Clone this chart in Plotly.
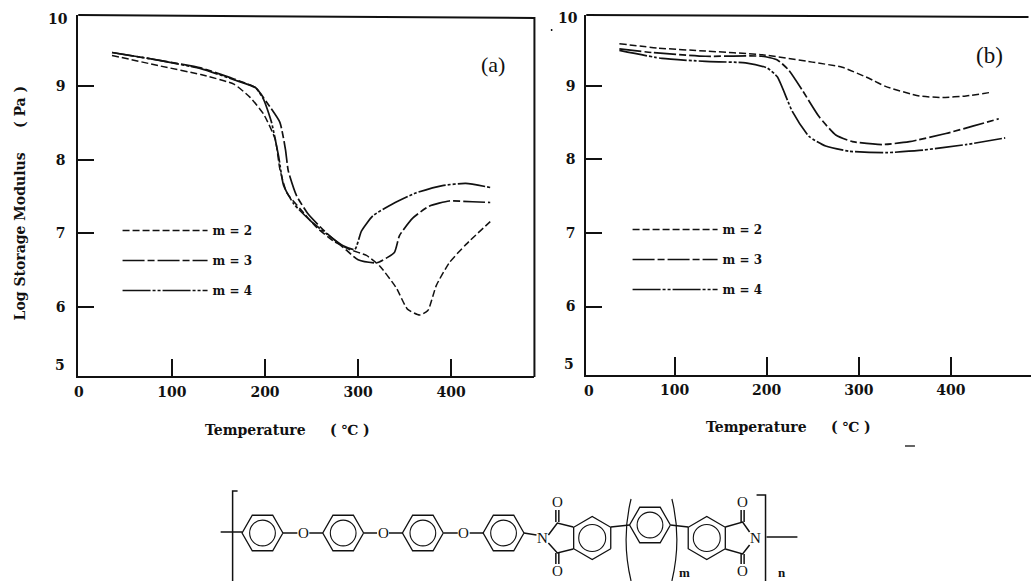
import math
import plotly.graph_objects as go

W, H = 1031, 581

# Panel (a)
a_m2_x = [35.6, 88, 131, 166.5, 184, 198.6, 211, 216, 223.5, 238, 255.5, 273, 291, 309, 323, 341, 353, 366, 375, 384, 398, 416, 442]
a_m2_y = [9.42, 9.275, 9.16, 9.03, 8.85, 8.62, 8.28, 7.87, 7.55, 7.33, 7.08, 6.90, 6.78, 6.70, 6.56, 6.26, 5.97, 5.89, 5.95, 6.29, 6.60, 6.85, 7.16]
a_m3_x = [35.6, 88, 131, 166.5, 190, 202, 216, 222, 225, 234, 246.6, 264, 284, 300, 320, 339, 344.5, 359, 376.5, 398, 423, 442]
a_m3_y = [9.46, 9.35, 9.25, 9.10, 8.98, 8.78, 8.51, 8.14, 7.85, 7.51, 7.26, 7.03, 6.81, 6.64, 6.60, 6.74, 6.97, 7.21, 7.37, 7.44, 7.43, 7.42]
a_m4_x = [35.6, 88, 131, 166.5, 190, 198.6, 207, 214.6, 220, 231, 249, 266.5, 284, 296.5, 303.6, 316, 337, 362, 390.7, 415.7, 443.4]
a_m4_y = [9.46, 9.35, 9.24, 9.09, 8.98, 8.82, 8.51, 8.05, 7.65, 7.40, 7.17, 6.99, 6.83, 6.78, 7.03, 7.24, 7.40, 7.55, 7.65, 7.68, 7.62]

# Panel (b)
b_m2_x = [40, 82.7, 133.5, 195, 249.5, 282, 311, 329, 365.7, 391, 416.4, 443.6]
b_m2_y = [9.57, 9.51, 9.47, 9.42, 9.32, 9.25, 9.10, 8.99, 8.86, 8.84, 8.86, 8.91]
b_m3_x = [40, 75.4, 133.5, 195, 211.5, 224, 238.6, 256.8, 275, 293, 325.7, 355, 394.6, 423.7, 452]
b_m3_y = [9.50, 9.45, 9.40, 9.40, 9.35, 9.21, 8.94, 8.58, 8.33, 8.24, 8.20, 8.24, 8.35, 8.45, 8.55]
b_m4_x = [40, 86.3, 133.5, 177, 200.6, 211.5, 227.8, 246, 264, 289.4, 329.4, 365.6, 416.4, 459]
b_m4_y = [9.48, 9.37, 9.33, 9.31, 9.24, 9.12, 8.65, 8.31, 8.18, 8.11, 8.09, 8.12, 8.20, 8.29]

series_names = ["m = 2", "m = 3", "m = 4"]
a_x_ticks = [0, 100, 200, 300, 400]
b_x_ticks = [100, 200, 300, 400]
y_ticks = [6, 7, 8, 9]

SERIF = "DejaVu Serif"
DASHES = ["7px,3px", "22px,3px,7px,3px", "28px,2px,3px,2px,3px,2px"]
WIDTHS = [1.5, 1.7, 1.7]


def px(x):
    return (x - 2.5) / W


def py(y):
    return 1 - y / H


fig = go.Figure()
panels = [
    ("x", "y", "legend", [(a_m2_x, a_m2_y), (a_m3_x, a_m3_y), (a_m4_x, a_m4_y)]),
    ("x2", "y2", "legend2", [(b_m2_x, b_m2_y), (b_m3_x, b_m3_y), (b_m4_x, b_m4_y)]),
]
for xa, ya, leg, curves in panels:
    for i, (xs, ys) in enumerate(curves):
        fig.add_trace(go.Scatter(
            x=xs, y=ys, xaxis=xa, yaxis=ya, mode="lines", name=series_names[i],
            legend=leg, legendgroup=f"{leg}{i}",
            line=dict(color="#111", width=WIDTHS[i], dash=DASHES[i], shape="spline", smoothing=0.5),
            hoverinfo="skip",
        ))

tickfont = dict(family=SERIF, size=14, color="#111", weight=700)
axis_common = dict(showgrid=False, zeroline=False, showline=True, linecolor="#111", linewidth=2,
                   ticks="inside", tickwidth=2, tickcolor="#111", tickfont=tickfont)

legend_common = dict(
    bgcolor="rgba(0,0,0,0)", borderwidth=0, itemwidth=85, tracegroupgap=11,
    font=dict(family=SERIF, size=12, color="#111", weight=700),
    xanchor="left", yanchor="top", itemclick=False, itemdoubleclick=False,
)

ann = []


def text(x, y, s, size=14, family=SERIF, weight=700, angle=0):
    ann.append(dict(x=px(x), y=py(y), xref="paper", yref="paper", text=s, showarrow=False,
                    xanchor="center", yanchor="middle", textangle=angle,
                    font=dict(family=family, size=size, color="#111", weight=weight)))


text(57, 19, "10"); text(59, 365, "5")
text(569, 18, "10"); text(570, 364, "5"); text(590, 391, "0")
text(19, 203, "Log Storage Modulus     ( Pa )", size=14, angle=-90)
text(287, 430, "Temperature     ( ℃ )", size=14)
text(790, 427, "Temperature     ( ℃ )", size=14)
text(493, 65, "(a)", size=22, family="Liberation Serif", weight=400)
text(992, 56, "(b)", size=23, family="Liberation Serif", weight=400)

shapes = []


def line_path(points, width=1.5):
    d = "M" + " L".join(f"{px(a):.5f},{py(b):.5f}" for a, b in points)
    shapes.append(dict(type="path", path=d, xref="paper", yref="paper",
                       line=dict(color="#111", width=width)))


# frame: the top of both panels and the right side of panel (a)
line_path([(77, 15), (535, 18), (535, 377)], 2)
line_path([(587, 15), (1031, 17)], 2)

# scan specks
line_path([(551.5, 30), (553, 30)], 2)
line_path([(907, 446), (917, 446)], 1.3)


def ring(cx, cy, r, start):
    pts = [(cx + r * math.cos(math.radians(start + 60 * k)), cy + r * math.sin(math.radians(start + 60 * k)))
           for k in range(7)]
    line_path(pts, 1.3)
    shapes.append(dict(type="circle", xref="paper", yref="paper",
                       x0=px(cx - r * 0.63), x1=px(cx + r * 0.63),
                       y0=py(cy - r * 0.63), y1=py(cy + r * 0.63),
                       line=dict(color="#111", width=1.1)))


# repeat-unit formula
for cx in (262, 343, 423, 504):
    ring(cx, 533, 20.5, 0)
ring(651, 525, 20.5, 0)
ring(593, 538, 21.5, 30)
ring(708, 538, 21.5, 30)

for pts in (
    [(220, 532), (241.5, 532)], [(282.5, 533), (297, 533)], [(309, 533), (322.5, 533)],
    [(363.5, 533), (377, 533)], [(389, 533), (402.5, 533)], [(443.5, 533), (458, 533)],
    [(470, 533), (483.5, 533)], [(524.5, 533), (537, 535)],
    [(549, 535), (558, 523), (574, 527)], [(549, 543), (558, 553), (574, 549)],
    [(611.6, 527), (630.5, 525)], [(671.5, 525), (689.4, 527)],
    [(751, 532), (744, 522), (726.6, 527)], [(751, 545), (744, 554), (726.6, 549)],
    [(556.5, 522), (556.5, 510)], [(559.5, 522), (559.5, 510)],
    [(556.5, 553), (556.5, 564)], [(559.5, 553), (559.5, 564)],
    [(742.5, 522), (742.5, 510)], [(745.5, 522), (745.5, 510)],
    [(742.5, 554), (742.5, 564)], [(745.5, 554), (745.5, 564)],
    [(237, 491), (232, 491), (232, 581)], [(758, 495), (767, 495), (767, 581)],
    [(768, 537), (799, 537)],
):
    line_path(pts)

for cx_top, cx_mid in ((632, 622), (673, 683)):
    d = (f"M{px(cx_top)},{py(499)} Q{px(cx_mid)},{py(539)} {px(cx_top)},{py(581)}")
    shapes.append(dict(type="path", path=d, xref="paper", yref="paper", line=dict(color="#111", width=1.2)))

FORMULA = "Liberation Serif"
for x, y, s in ((303, 533, "O"), (383, 533, "O"), (464, 533, "O"),
                (543, 538, "N"), (757, 538, "N"),
                (558, 502, "O"), (558, 571, "O"), (744, 502, "O"), (744, 571, "O")):
    text(x, y, s, size=15, family=FORMULA, weight=400)
text(686, 572, "m", size=13, family=FORMULA)
text(784, 572, "n", size=13, family=FORMULA)

fig.update_layout(
    width=W, height=H, margin=dict(l=0, r=0, t=0, b=0), autosize=False,
    paper_bgcolor="white", plot_bgcolor="white",
    xaxis=dict(domain=[px(77), px(535)], range=[-0.7, 489.5], tickvals=a_x_ticks, ticklen=17,
               ticklabelstandoff=2, anchor="y", **axis_common),
    yaxis=dict(domain=[py(376), py(15)], range=[5.06, 9.97], tickvals=y_ticks, ticklen=16,
               ticklabelstandoff=8, anchor="x", **axis_common),
    xaxis2=dict(domain=[px(587), 1], range=[4, 487], tickvals=b_x_ticks, ticklen=18,
                ticklabelstandoff=1, anchor="y2", **axis_common),
    yaxis2=dict(domain=[py(375), py(15)], range=[5.07, 9.96], tickvals=y_ticks, ticklen=16,
                ticklabelstandoff=6, anchor="x2", **axis_common),
    legend=dict(x=px(116.5), y=py(216), **legend_common),
    legend2=dict(x=px(628.5), y=py(215), **legend_common),
    annotations=ann, shapes=shapes,
)

fig.write_html("out.html", config={"displayModeBar": False},
               post_script="document.body.style.margin='0';document.documentElement.style.overflow='hidden';")
